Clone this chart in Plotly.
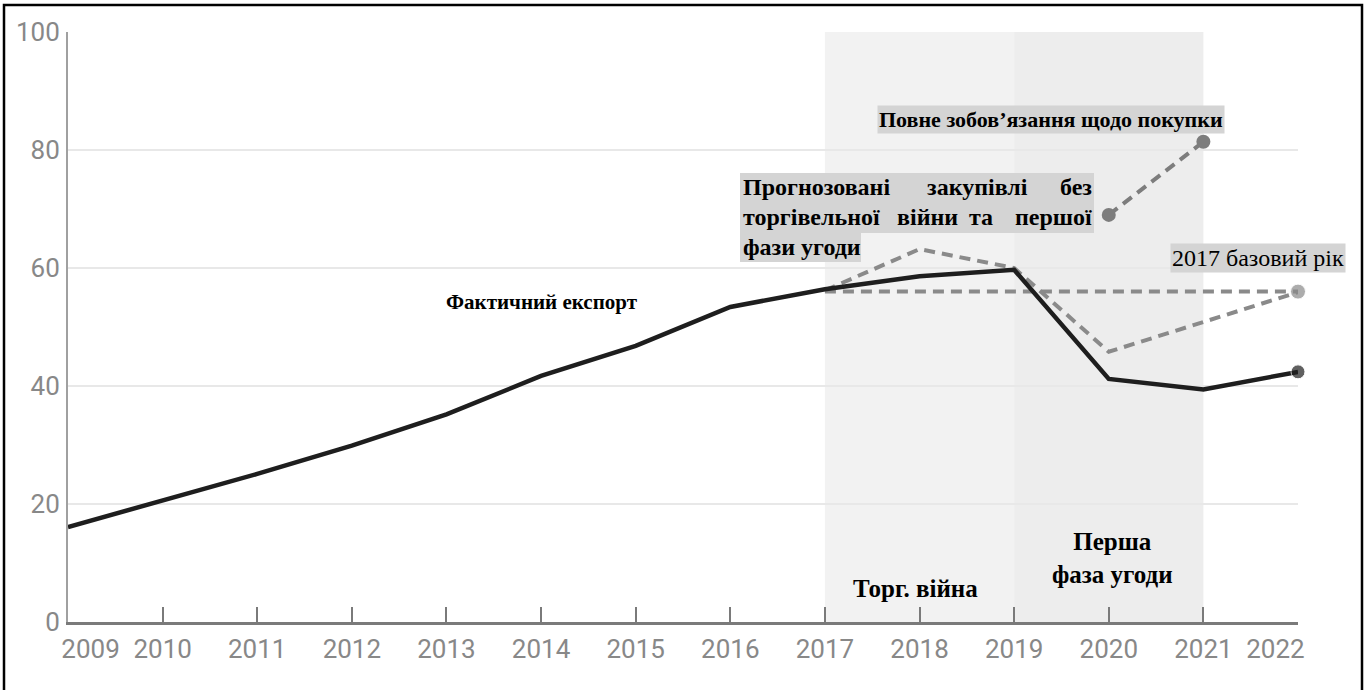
import plotly.graph_objects as go

# ---------------- data ----------------
years = [2009, 2010, 2011, 2012, 2013, 2014, 2015, 2016, 2017, 2018, 2019, 2020, 2021, 2022]
actual_exports = [16.1, 20.6, 25.1, 29.9, 35.2, 41.7, 46.8, 53.4, 56.4, 58.6, 59.7, 41.2, 39.4, 42.4]

base_years = [2017, 2018, 2019, 2020, 2021, 2022]
base_2017 = [56.0, 56.0, 56.0, 56.0, 56.0, 56.0]

proj_years = [2017, 2018, 2019, 2020, 2022]
projected = [56.2, 63.2, 60.0, 45.8, 55.9]

full_years = [2020, 2021]
full_commitment = [69.0, 81.4]

y_ticks = [0, 20, 40, 60, 80, 100]
x_tick_labels = [str(y) for y in years]

# ---------------- layout helpers (pixel -> axis units) ----------------
PXL, PXR, PYB, PYT = 68, 1298, 622, 32
def xd(px):
    return years[0] + (px - PXL) * (years[-1] - years[0]) / (PXR - PXL)
def yd(py):
    return (PYB - py) * 100 / (PYB - PYT)

GRAY_DASH = "#8a8a8a"
SERIF = "Liberation Serif, Times New Roman, serif"
NARROW = "Roboto, Liberation Sans Narrow, sans-serif"

fig = go.Figure()

fig.add_trace(go.Scatter(
    x=base_years, y=base_2017, mode="lines+markers",
    line=dict(color=GRAY_DASH, width=4, dash="11px,7px"),
    marker=dict(size=[0, 0, 0, 0, 0, 15], color=GRAY_DASH),
    cliponaxis=False, showlegend=False, hoverinfo="skip"))

fig.add_trace(go.Scatter(
    x=proj_years, y=projected, mode="lines",
    line=dict(color=GRAY_DASH, width=4, dash="11px,7px"),
    cliponaxis=False, showlegend=False, hoverinfo="skip"))

fig.add_trace(go.Scatter(
    x=full_years, y=full_commitment, mode="lines+markers",
    line=dict(color="#7d7d7d", width=4, dash="11px,7px"),
    marker=dict(size=14, color="#7d7d7d"),
    cliponaxis=False, showlegend=False, hoverinfo="skip"))

fig.add_trace(go.Scatter(
    x=years, y=actual_exports, mode="lines+markers",
    line=dict(color="#1e1e1e", width=4.5),
    marker=dict(size=[0] * (len(years) - 1) + [14], color="#1e1e1e"),
    cliponaxis=False, showlegend=False, hoverinfo="skip"))

shapes = [
    dict(type="rect", xref="x", yref="y", x0=2017, x1=2019, y0=0, y1=100,
         fillcolor="#f2f2f2", line=dict(width=0), layer="below"),
    dict(type="rect", xref="x", yref="y", x0=2019, x1=2021, y0=0, y1=100,
         fillcolor="#ededed", line=dict(width=0), layer="below"),
    # highlight behind projected-purchases label
    dict(type="rect", xref="x", yref="y", x0=xd(740), x1=xd(1094), y0=yd(233), y1=yd(173),
         fillcolor="#d4d4d4", line=dict(width=0), layer="above"),
    dict(type="rect", xref="x", yref="y", x0=xd(740), x1=xd(861), y0=yd(262), y1=yd(232),
         fillcolor="#d4d4d4", line=dict(width=0), layer="above"),
    # outer frame
    dict(type="rect", xref="paper", yref="paper",
         x0=(4 - PXL) / (PXR - PXL), x1=(1362 - PXL) / (PXR - PXL),
         y0=(PYB - 700) / (PYB - PYT), y1=(PYB - 5) / (PYB - PYT),
         line=dict(color="black", width=2.5), fillcolor="rgba(0,0,0,0)", layer="above"),
]

ann = []
def word(text, px, py, anchor="center", size=22, bold=True, bg=None):
    a = dict(x=xd(px), y=yd(py), xref="x", yref="y", showarrow=False,
             text=f"<b>{text}</b>" if bold else text, xanchor=anchor, yanchor="middle",
             font=dict(family=SERIF, size=size, color="black"))
    if bg:
        a.update(bgcolor=bg, borderpad=1)
    ann.append(a)

# projected purchases label (justified)
word("Прогнозовані", 741, 187, "left", size=24)
word("закупівлі", 977, 187, size=24)
word("без", 1094, 187, "right", size=24)
word("торгівельної", 741, 217, "left", size=24)
word("війни", 927, 217, size=24)
word("та", 981, 217, size=24)
word("першої", 1094, 217, "right", size=24)
word("фази угоди", 741, 247, "left", size=24)

word("Повне зобов’язання щодо покупки", 1051, 119, bg="#d4d4d4")
word("2017 базовий рік", 1258, 258, size=24, bold=False, bg="#d4d4d4")
word("Фактичний експорт", 542, 302, size=21)
word("Торг. війна", 915, 588, size=25)
ann.append(dict(x=xd(1112), y=yd(558), xref="x", yref="y", showarrow=False,
                text="<b>Перша<br>фаза угоди</b>", align="center",
                font=dict(family=SERIF, size=25, color="black")))

tick_text = list(x_tick_labels)
tick_text[0] = "\u00a0" * 7 + tick_text[0]
tick_text[-1] = tick_text[-1] + "\u00a0" * 7

fig.update_layout(
    width=1370, height=690, autosize=False,
    margin=dict(l=PXL, r=1370 - PXR, t=PYT, b=690 - PYB),
    paper_bgcolor="white", plot_bgcolor="white",
    shapes=shapes, annotations=ann,
    xaxis=dict(range=[years[0], years[-1]], tickmode="array", tickvals=years, ticktext=tick_text,
               showgrid=False, zeroline=False, showline=True, linecolor="#7a7a7a", linewidth=3,
               ticks="inside", ticklen=15, tickwidth=2, tickcolor="#7a7a7a",
               tickangle=0, automargin=False, ticklabelstandoff=2,
               tickfont=dict(family=NARROW, size=26, color="#888888")),
    yaxis=dict(range=[0, 100], tickmode="array", tickvals=y_ticks,
               showgrid=True, gridcolor="#e8e8e8", gridwidth=2, zeroline=False,
               showline=True, linecolor="#a0a0a0", linewidth=2, ticks="",
               ticklabelstandoff=1, automargin=False,
               tickfont=dict(family=NARROW, size=26, color="#888888")),
)

fig.write_html("out.html")
